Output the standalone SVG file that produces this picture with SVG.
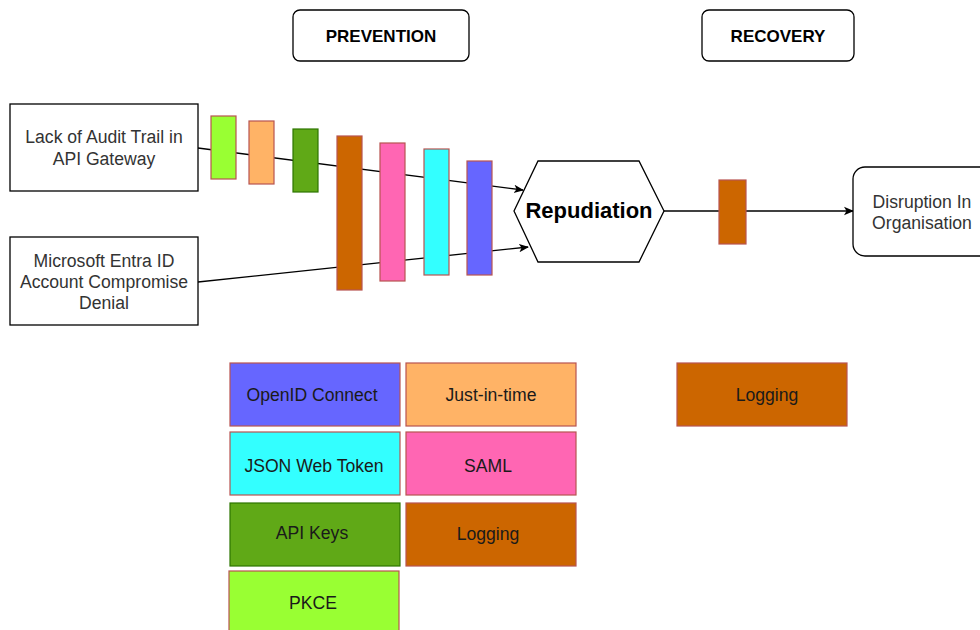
<svg xmlns="http://www.w3.org/2000/svg" width="980" height="630" viewBox="0 0 980 630">
<defs>
<style>
text{font-family:"Liberation Sans",Arial,sans-serif;font-size:17.6px;text-anchor:middle}
.box{fill:#fff;stroke:#000;stroke-width:1.3}
.dark{fill:#333}
.lt{fill:#1a1a1a}
.hdr{font-weight:bold;fill:#000;font-size:17px}
.bar{stroke:#b85450;stroke-width:1.2}
.conn{fill:none;stroke:#000;stroke-width:1.3}
</style>
<marker id="ah" viewBox="0 0 10 10" refX="9" refY="5" markerWidth="10" markerHeight="10" markerUnits="userSpaceOnUse" orient="auto">
<path d="M0,0.8 L10,5 L0,9.2 L2.5,5 Z" fill="#000"/>
</marker>
</defs>
<rect width="980" height="630" fill="#fff"/>
<g id="prevention"><rect class="box" x="293" y="10" width="176" height="51" rx="7"/><text class="hdr" x="381" y="42">PREVENTION</text></g>
<g id="recovery"><rect class="box" x="702" y="10" width="152" height="51" rx="7"/><text class="hdr" x="778" y="42">RECOVERY</text></g>
<g id="connectors">
<path class="conn" d="M198,148 L523,190" marker-end="url(#ah)"/>
<path class="conn" d="M198,282 L528,247" marker-end="url(#ah)"/>
<path class="conn" d="M664,211 L853,211" marker-end="url(#ah)"/>
</g>
<g id="lack"><rect class="box" x="10" y="104" width="188" height="87"/><text class="dark" x="104" y="143">Lack of Audit Trail in</text><text class="dark" x="104" y="165">API Gateway</text></g>
<g id="entra"><rect class="box" x="10" y="237" width="188" height="88"/><text class="dark" x="104" y="267">Microsoft Entra ID</text><text class="dark" x="104" y="288">Account Compromise</text><text class="dark" x="104" y="309">Denial</text></g>
<g id="bars">
<rect class="bar" x="211" y="116" width="25" height="63" fill="#99FF33"/>
<rect class="bar" x="249" y="121" width="25" height="63" fill="#FFB366"/>
<rect x="293" y="129" width="25" height="63" fill="#60A917" stroke="#2D7600" stroke-width="1.2"/>
<rect class="bar" x="337" y="136" width="25" height="154" fill="#CC6600"/>
<rect class="bar" x="380" y="143" width="25" height="138" fill="#FF66B3"/>
<rect class="bar" x="424" y="149" width="25" height="126" fill="#33FFFF"/>
<rect class="bar" x="467" y="161" width="25" height="114" fill="#6666FF"/>
</g>
<g id="repudiation"><polygon class="box" points="514,211 538,161 639,161 664,211 639,262 538,262"/><text class="hdr" x="589" y="218" style="font-size:22px">Repudiation</text></g>
<g id="recbar"><rect class="bar" x="719" y="180" width="27" height="64" fill="#CC6600"/></g>
<g id="disruption"><rect class="box" x="853" y="167" width="140" height="89" rx="12"/><text class="dark" x="922" y="208">Disruption In</text><text class="dark" x="922" y="229">Organisation</text></g>
<g id="legend">
<g id="openid"><rect class="bar" x="230" y="363" width="170" height="63" fill="#6666FF"/><text class="lt" x="312" y="401">OpenID Connect</text></g>
<g id="jit"><rect class="bar" x="406" y="363" width="170" height="63" fill="#FFB366"/><text class="lt" x="491" y="401">Just-in-time</text></g>
<g id="jwt"><rect class="bar" x="230" y="432" width="170" height="63" fill="#33FFFF"/><text class="lt" x="314" y="472">JSON Web Token</text></g>
<g id="saml"><rect class="bar" x="406" y="432" width="170" height="63" fill="#FF66B3"/><text class="lt" x="488" y="472">SAML</text></g>
<g id="apikeys"><rect x="230" y="503" width="170" height="63" fill="#60A917" stroke="#2D7600" stroke-width="1.2"/><text class="lt" x="312" y="539">API Keys</text></g>
<g id="logging1"><rect class="bar" x="406" y="503" width="170" height="63" fill="#CC6600"/><text class="lt" x="488" y="540">Logging</text></g>
<g id="pkce"><rect class="bar" x="229" y="571" width="170" height="70" fill="#99FF33"/><text class="lt" x="313" y="609">PKCE</text></g>
<g id="logging2"><rect class="bar" x="677" y="363" width="170" height="63" fill="#CC6600"/><text class="lt" x="767" y="401">Logging</text></g>
</g>
</svg>
